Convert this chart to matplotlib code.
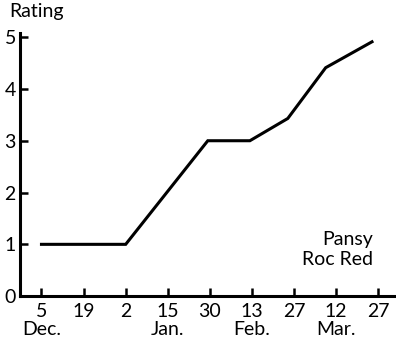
import matplotlib
matplotlib.use('Agg')
import matplotlib.pyplot as plt

# tick positions are evenly spaced, labelled by date
tick_days = ['5', '19', '2', '15', '30', '13', '27', '12', '27']
tick_months = ['Dec.', '', '', 'Jan.', '', 'Feb.', '', 'Mar.', '']

# rating line, x given in tick-index units
rating_x = [0, 2, 3.95, 4.95, 5.85, 6.75, 7.85]
rating_y = [1, 1, 3, 3, 3.43, 4.41, 4.91]

plt.rcParams['font.family'] = ['Lato', 'DejaVu Sans']

fig = plt.figure(figsize=(3.96, 3.40), dpi=100)
ax = fig.add_axes([0.0505, 0.129, 0.9495, 0.774])

ax.plot(rating_x, rating_y, color='black', linewidth=2.2, solid_joinstyle='miter')

ax.set_xlim(-0.51, 8.42)
ax.set_ylim(0, 5.08)

labels = [d + ('\n' + m if m else '') for d, m in zip(tick_days, tick_months)]
ax.set_xticks(range(len(tick_days)))
ax.set_xticklabels(labels, fontsize=14, linespacing=1.05, va='top')
ax.set_yticks(range(6))
ax.set_yticklabels([str(i) for i in range(6)], fontsize=14)

ax.tick_params(axis='both', direction='in', length=6, width=1.8, color='black')
ax.tick_params(axis='x', pad=5)
ax.tick_params(axis='y', pad=3)

for side in ['top', 'right']:
    ax.spines[side].set_visible(False)
for side in ['left', 'bottom']:
    ax.spines[side].set_linewidth(2.2)

fig.text(9 / 396, 1 - 3 / 340, 'Rating', fontsize=14, ha='left', va='top')
ax.text(0.938, 0.177, 'Pansy\nRoc Red', transform=ax.transAxes, fontsize=14,
        ha='right', va='center', linespacing=1.25)

fig.savefig('out.png', dpi=100)
